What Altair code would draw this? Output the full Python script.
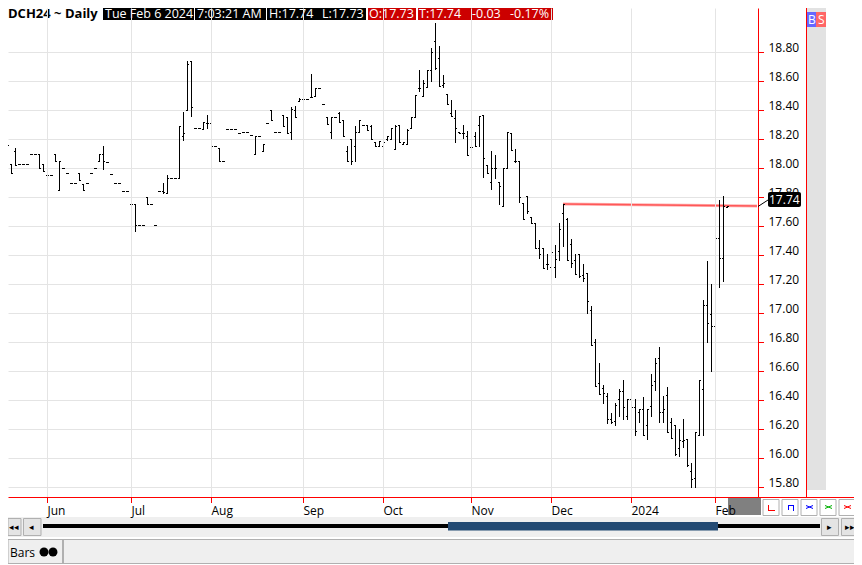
import json
import altair as alt
import pandas as pd

opens = [18.30,18.10,18.03,18.115,18.03,18.03,18.03,18.096,18.096,18.096,18.03,17.954,17.954,18.096,17.848,18.0,17.967,17.898,17.898,17.965,
17.89,17.898,17.967,18.0,18.045,18.098,18.043,17.96,17.898,17.898,17.84,17.84,17.753,17.753,17.604,17.604,17.80,17.753,17.604,17.84,
17.84,17.83,17.93,17.93,17.93,18.22,18.40,18.74,18.276,18.276,18.27,18.31,18.31,18.154,18.138,18.05,18.27,18.27,18.27,18.243,
18.248,18.248,18.227,18.096,18.22,18.115,18.31,18.40,18.248,18.248,18.365,18.35,18.246,18.40,18.46,18.476,18.476,18.487,18.494,18.552,
18.44,18.35,18.246,18.35,18.38,18.333,18.115,18.20,18.154,18.25,18.296,18.296,18.29,18.18,18.154,18.15,18.20,18.20,18.13,18.296,
18.163,18.165,18.276,18.35,18.55,18.494,18.558,18.678,18.874,18.76,18.57,18.51,18.38,18.342,18.25,18.24,18.22,18.148,18.22,18.296,
18.367,18.022,17.90,18.0,17.90,17.735,18.0,18.24,18.045,18.05,17.76,17.807,17.66,17.623,17.45,17.446,17.335,17.32,17.32,17.43,
17.69,17.65,17.473,17.365,17.405,17.26,17.278,17.02,16.80,16.517,16.48,16.425,16.268,16.257,16.406,16.46,16.287,16.406,16.35,16.315,
16.337,16.23,16.36,16.533,16.69,16.315,16.436,16.25,16.23,16.07,16.12,16.13,15.91,15.86,16.157,16.475,17.057,16.99,16.91,17.517,
17.38,17.73]
highs = [18.38,18.16,18.03,18.14,18.03,18.03,18.03,18.096,18.096,18.096,18.03,17.954,17.954,18.096,18.048,18.0,17.967,17.898,17.898,17.965,
17.89,17.898,17.967,18.0,18.098,18.154,18.043,17.96,17.898,17.898,17.84,17.84,17.753,17.753,17.604,17.604,17.80,17.753,17.604,17.84,
17.896,17.951,17.93,17.93,18.29,18.386,18.735,18.74,18.276,18.276,18.315,18.365,18.31,18.154,18.138,18.05,18.27,18.27,18.27,18.243,
18.248,18.248,18.227,18.22,18.22,18.165,18.31,18.40,18.248,18.248,18.365,18.35,18.42,18.43,18.48,18.476,18.476,18.65,18.55,18.552,
18.44,18.35,18.35,18.35,18.385,18.333,18.154,18.20,18.29,18.333,18.296,18.296,18.296,18.18,18.186,18.195,18.222,18.276,18.296,18.296,
18.18,18.27,18.35,18.50,18.678,18.604,18.678,18.828,19.0,18.844,18.644,18.51,18.47,18.40,18.25,18.296,18.257,18.218,18.25,18.356,
18.367,18.022,18.115,18.09,17.90,18.0,18.245,18.24,18.133,18.05,17.76,17.807,17.66,17.623,17.50,17.446,17.404,17.46,17.467,17.623,
17.754,17.657,17.513,17.405,17.405,17.335,17.278,17.05,16.82,16.655,16.50,16.448,16.31,16.38,16.475,16.54,16.406,16.406,16.406,16.337,
16.42,16.337,16.58,16.69,16.765,16.43,16.49,16.275,16.23,16.20,16.268,16.13,15.965,16.177,16.535,17.09,17.356,17.20,17.609,17.78,
17.804,17.74]
lows = [18.30,18.10,17.965,18.02,18.03,18.03,18.03,18.096,18.096,18.0,17.98,17.954,17.954,18.045,17.848,18.0,17.967,17.898,17.898,17.915,
17.848,17.898,17.967,18.0,18.045,17.995,18.043,17.96,17.898,17.898,17.84,17.84,17.753,17.563,17.604,17.604,17.753,17.753,17.604,17.84,
17.83,17.83,17.93,17.93,17.93,18.195,18.40,18.356,18.276,18.276,18.27,18.276,18.154,18.154,18.05,18.05,18.27,18.27,18.27,18.243,
18.248,18.248,18.227,18.096,18.22,18.115,18.31,18.33,18.248,18.248,18.29,18.243,18.20,18.35,18.46,18.476,18.476,18.487,18.494,18.552,
18.44,18.30,18.205,18.35,18.315,18.218,18.05,18.027,18.05,18.25,18.296,18.264,18.20,18.15,18.154,18.15,18.195,18.20,18.13,18.177,
18.163,18.165,18.276,18.35,18.53,18.494,18.558,18.60,18.68,18.563,18.558,18.443,18.356,18.18,18.24,18.205,18.087,18.045,18.154,18.154,
17.935,17.965,17.855,17.93,17.75,17.735,18.0,18.126,18.04,17.765,17.65,17.69,17.62,17.45,17.38,17.31,17.30,17.30,17.248,17.365,
17.462,17.365,17.32,17.267,17.25,17.22,17.0,16.78,16.494,16.443,16.38,16.24,16.24,16.227,16.29,16.268,16.268,16.255,16.16,16.245,
16.16,16.13,16.287,16.466,16.25,16.245,16.177,16.137,16.02,16.015,16.075,15.946,15.80,15.80,16.157,16.16,16.797,16.597,16.78,17.18,
17.218,17.73]
closes = [18.38,18.16,17.965,18.02,18.03,18.03,18.03,18.096,18.096,18.0,17.98,17.954,17.954,18.045,18.048,18.0,17.967,17.898,17.898,17.915,
17.848,17.898,17.967,18.0,18.098,18.048,18.043,17.96,17.898,17.898,17.84,17.84,17.753,17.604,17.604,17.604,17.753,17.753,17.604,17.84,
17.835,17.93,17.93,17.93,18.29,18.24,18.72,18.42,18.276,18.276,18.315,18.31,18.154,18.154,18.05,18.05,18.27,18.27,18.27,18.243,
18.248,18.248,18.227,18.22,18.22,18.165,18.31,18.33,18.248,18.248,18.29,18.243,18.41,18.35,18.475,18.476,18.476,18.49,18.55,18.552,
18.44,18.30,18.35,18.35,18.315,18.218,18.05,18.05,18.246,18.33,18.296,18.264,18.20,18.15,18.186,18.18,18.218,18.276,18.29,18.177,
18.18,18.265,18.35,18.50,18.55,18.586,18.678,18.80,18.69,18.563,18.586,18.443,18.356,18.276,18.24,18.24,18.087,18.148,18.154,18.356,
18.07,17.965,18.0,18.0,17.875,18.0,18.245,18.126,18.045,17.80,17.65,17.70,17.62,17.45,17.41,17.31,17.335,17.42,17.37,17.58,
17.754,17.365,17.343,17.267,17.255,17.243,17.08,16.78,16.494,16.443,16.45,16.268,16.25,16.363,16.46,16.35,16.406,16.35,16.183,16.335,
16.16,16.335,16.50,16.655,16.315,16.335,16.177,16.137,16.03,16.125,16.125,15.953,15.857,16.177,16.535,17.057,16.93,16.91,17.517,17.38,
17.735,17.74]

month_ticks = [11, 32, 52, 75, 95, 117, 137, 157, 178]
month_labels = ["Jun", "Jul", "Aug", "Sep", "Oct", "Nov", "Dec", "2024", "Feb"]
price_ticks = [15.8, 16.0, 16.2, 16.4, 16.6, 16.8, 17.0, 17.2, 17.4, 17.6, 17.8, 18.0, 18.2, 18.4, 18.6, 18.8]
trend_i = [140, 188.5]
trend_price = [17.754, 17.74]

FONT = "Open Sans"
RED = "#ff0000"
GRID = "#e4e4e4"
ONE = pd.DataFrame({"a": [0]})


def X(p):
    return alt.value(p - 8)


def Y(p):
    return alt.value(p - 8)


def box(x0, y0, x1, y1, fill, stroke=None, radius=0):
    kw = {"fill": fill}
    if stroke:
        kw.update(stroke=stroke, strokeWidth=1)
    if radius:
        kw["cornerRadius"] = radius
    return alt.Chart(ONE).mark_rect(**kw).encode(x=X(x0), x2=X(x1), y=Y(y0), y2=Y(y1))


def seg(x0, y0, x1, y1, color, w=1):
    return alt.Chart(ONE).mark_rule(color=color, strokeWidth=w).encode(x=X(x0), x2=X(x1), y=Y(y0), y2=Y(y1))


def label(x, y, s, color="#000000", size=12, weight="normal", align="left"):
    return alt.Chart(ONE).mark_text(align=align, baseline="alphabetic", font=FONT, fontSize=size,
                                    fontWeight=weight, color=color).encode(x=X(x), y=Y(y), text=alt.value(s))


def dot(x, y):
    return alt.Chart(ONE).mark_circle(color="#000000", size=80, opacity=1).encode(x=X(x), y=Y(y))


bars = pd.DataFrame({"i": list(range(len(opens))), "o": opens, "h": highs, "l": lows, "c": closes})
trend = pd.DataFrame({"i": trend_i, "p": trend_price})
y_tick_df = pd.DataFrame({"p": price_ticks})
x_tick_df = pd.DataFrame({"i": month_ticks})

x_axis = alt.Axis(values=month_ticks, title=None, ticks=True, tickWidth=1, tickOpacity=1,
                  labelExpr=f"{json.dumps(month_labels)}[indexof({json.dumps(month_ticks)}, datum.value)]",
                  domainColor=RED, tickColor=RED, tickSize=5, gridColor=GRID, grid=True,
                  labelAlign="left", labelPadding=3, labelColor="#000000", labelFont=FONT, labelFontSize=12,
                  labelOverlap=False, labelBound=False, labelFlush=False, zindex=1)
y_axis = alt.Axis(values=price_ticks, title=None, orient="right", format=".2f", ticks=True, tickWidth=1, tickOpacity=1,
                  domainColor=RED, tickColor=RED, tickSize=5, gridColor=GRID, grid=True,
                  labelPadding=5, labelBaseline="alphabetic", labelOffset=-1, labelColor="#000000",
                  labelFont=FONT, labelFontSize=12, labelOverlap=False, labelBound=False, labelFlush=False)
x_scale = alt.Scale(domain=[1.25, 188.75], nice=False, zero=False)
y_scale = alt.Scale(domain=[15.731, 19.10345], nice=False, zero=False, round=True)

x_enc = alt.X("i:Q", scale=x_scale, axis=x_axis)
y_enc_p = alt.Y("p:Q", scale=y_scale, axis=y_axis)

stems = alt.Chart(bars).mark_rule(color="#000000", strokeWidth=1, xOffset=0.5, y2Offset=1).encode(
    x=x_enc, y=alt.Y("h:Q", scale=y_scale, axis=y_axis), y2="l:Q")
open_ticks = alt.Chart(bars).mark_rule(color="#000000", strokeWidth=1, xOffset=-1, x2Offset=0.5, yOffset=0.5).encode(
    x=x_enc, x2="i:Q", y=alt.Y("o:Q", scale=y_scale, axis=y_axis))
close_ticks = alt.Chart(bars).mark_rule(color="#000000", strokeWidth=1, xOffset=0.5, x2Offset=2, yOffset=0.5).encode(
    x=x_enc, x2="i:Q", y=alt.Y("c:Q", scale=y_scale, axis=y_axis))
trend_halo = alt.Chart(trend).mark_line(color="#ffb0b0", strokeWidth=3).encode(x=x_enc, y=y_enc_p)
trend_core = alt.Chart(trend).mark_line(color="#ff5858", strokeWidth=1.5).encode(x=x_enc, y=y_enc_p)

y_tick_marks = alt.Chart(y_tick_df).mark_rule(color=RED, strokeWidth=1, yOffset=0.5).encode(
    x=alt.value(750), x2=alt.value(756), y=y_enc_p)
x_tick_marks = alt.Chart(x_tick_df).mark_rule(color=RED, strokeWidth=1, xOffset=0.5).encode(
    x=x_enc, y=alt.value(489), y2=alt.value(495))

chrome = [
    # right strip
    box(807, 8, 826, 490, "#e2e2e2"),
    seg(806.5, 8, 806.5, 497, RED),
    seg(758, 497.5, 862, 497.5, RED),
    box(807, 12, 816, 27, "#6666ff"),
    box(816, 12, 826, 27, "#ff6666"),
    label(808, 24, "B", "#ffffff", 12),
    label(818, 24, "S", "#ffffff", 12),
    # header
    label(8, 18, "DCH24 ~ Daily", "#000000", 13, "bold"),
    box(103, 8, 194, 20, "#000000"),
    box(195, 8, 266, 20, "#000000"),
    box(267, 8, 366, 20, "#000000"),
    box(368, 8, 416, 20, "#cc0000"),
    box(418, 8, 553, 20, "#cc0000"),
    label(105, 18, "Tue Feb 6 2024", "#ffffff", 12.5),
    label(197, 18, "7:03:21 AM", "#ffffff", 12.5),
    label(269, 18, "H:17.74", "#ffffff", 12.5),
    label(322, 18, "L:17.73", "#ffffff", 12.5),
    label(369, 18, "O:17.73", "#ffffff", 12.5),
    label(419, 18, "T:17.74", "#ffffff", 12.5),
    label(472, 18, "-0.03", "#ffffff", 12.5),
    label(510, 18, "-0.17%", "#ffffff", 12.5),
    # last price flag
    seg(758, 206.5, 768, 200, "#000000"),
    box(768, 192, 801, 207, "#000000", radius=2),
    label(769, 204, "17.74", "#ffffff", 12),
    # grey block and small buttons
    box(728, 498, 761, 515, "#808080"),
]
for bx in (763, 782, 801, 820, 839):
    chrome.append(box(bx, 499.5, bx + 16, 515.5, "#ffffff", "#b0b0b0"))
chrome += [
    seg(768.5, 505, 768.5, 510.5, "#ff0000"), seg(768, 510.5, 775, 510.5, "#ff0000"),
    seg(788.5, 510, 788.5, 505.5, "#0000ff"), seg(788, 505.5, 793.5, 505.5, "#0000ff"), seg(793.5, 505, 793.5, 511, "#0000ff"),
    seg(806, 505.5, 813, 508.5, "#0000ff"), seg(806, 508.5, 813, 505.5, "#0000ff"),
    seg(825, 505.5, 832, 508.5, "#00b000"), seg(825, 508.5, 832, 505.5, "#00b000"),
    seg(844, 505.5, 851, 508.5, "#ff0000"), seg(844, 508.5, 851, 505.5, "#ff0000"),
    # scroll row
    box(8, 517, 862, 537, "#efefef"),
    box(8, 518.5, 21, 535.5, "#e4e4e4", "#b0b0b0"),
    box(23.5, 518.5, 41, 535.5, "#e4e4e4", "#b0b0b0"),
    box(821.5, 518.5, 838.5, 535.5, "#e4e4e4", "#b0b0b0"),
    box(841.5, 518.5, 858.5, 535.5, "#e4e4e4", "#b0b0b0"),
    seg(43, 526, 820, 526, "#000000", 4),
    box(448, 522, 718, 530.5, "#234a73"),
    label(9, 530, "◂◂", "#000000", 9),
    label(29, 530, "◂", "#000000", 9),
    label(827, 530, "▸", "#000000", 9),
    label(845, 530, "▸▸", "#000000", 9),
    # status row
    box(8, 539.5, 859.5, 563.5, "#efefef", "#b0b0b0"),
    seg(63, 540, 63, 563, "#b0b0b0", 2),
    label(10, 557, "Bars", "#000000", 12),
    dot(44, 552),
    dot(53, 552),
]

chart = alt.layer(trend_halo, trend_core, stems, open_ticks, close_ticks, y_tick_marks, x_tick_marks, *chrome).properties(
    width=750, height=489,
    padding={"left": 0, "top": 0, "right": 96, "bottom": 68},
    autosize=alt.AutoSizeParams(type="none"),
    background="#ffffff",
).configure_view(stroke=None)

chart.save("out.html", embed_options={"renderer": "svg", "actions": False})
